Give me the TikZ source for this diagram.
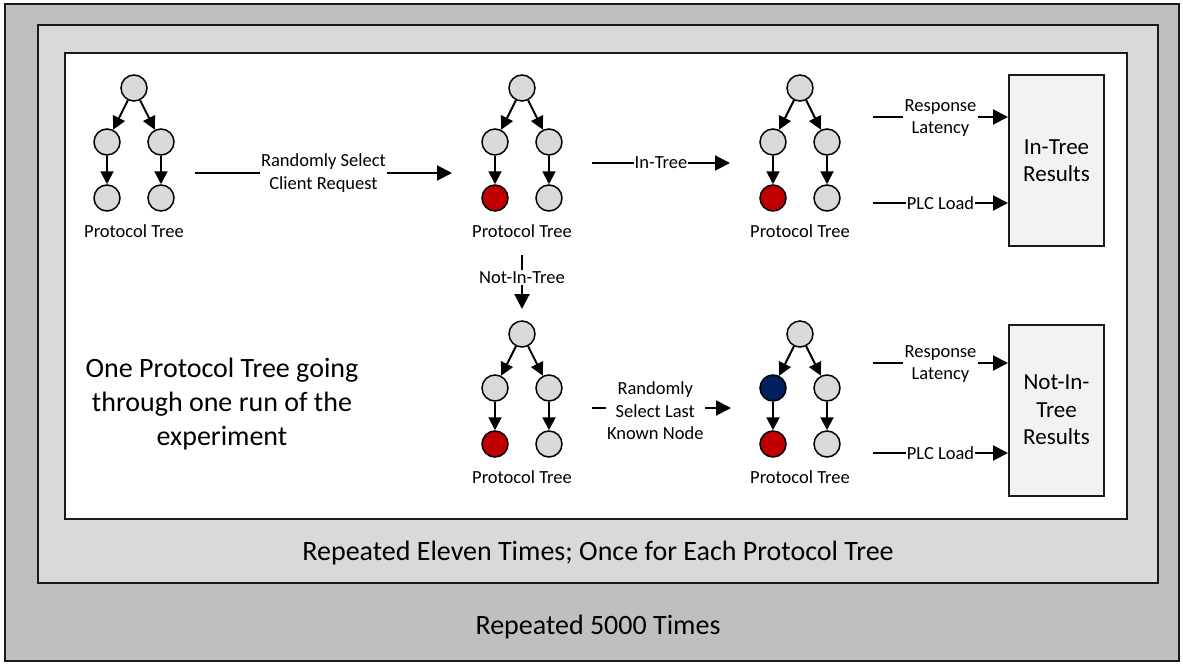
\documentclass[tikz,border=0pt]{standalone}
\usepackage{fontspec}
\setmainfont{Carlito}
\usetikzlibrary{arrows.meta,calc}
\definecolor{outerg}{HTML}{BFBFBF}
\definecolor{midg}{HTML}{D9D9D9}
\definecolor{boxg}{HTML}{F2F2F2}
\definecolor{nodeg}{HTML}{D9D9D9}
\definecolor{redn}{HTML}{C00000}
\definecolor{bluen}{HTML}{002060}
\definecolor{edgec}{HTML}{1A1A1A}
\tikzset{
 tn/.style={circle, draw=black, line width=1.5pt, fill=nodeg, minimum size=26pt, inner sep=0pt},
 tarr/.style={line width=2pt, -{Triangle[length=13pt,width=13pt]}},
 conn/.style={line width=2pt, -{Triangle[length=15pt,width=15pt]}},
 lbl/.style={fill=white, inner sep=1.5pt, align=center, font=\fontsize{18.5}{22.5}\selectfont},
 ptlbl/.style={font=\fontsize{18.5}{22.5}\selectfont, inner sep=0pt},
 frame/.style={draw=edgec, line width=2pt},
 res/.style={frame, fill=boxg, minimum width=95pt, minimum height=171pt, align=center, font=\fontsize{23}{27.5}\selectfont, inner sep=0pt},
 bigtxt/.style={font=\fontsize{28}{34}\selectfont, align=center},
}
\newcommand{\ptree}[5]{%
  \node[tn] (#1r) at (#2,#3) {};
  \node[tn,fill=#4] (#1a) at ({#2-27},{#3+54}) {};
  \node[tn] (#1b) at ({#2+27},{#3+54}) {};
  \node[tn,fill=#5] (#1c) at ({#2-27},{#3+110}) {};
  \node[tn] (#1d) at ({#2+27},{#3+110}) {};
  \node[ptlbl] (#1t) at (#2,{#3+143}) {Protocol Tree};
  \draw[tarr] (#1r) -- (#1a);
  \draw[tarr] (#1r) -- (#1b);
  \draw[tarr] (#1a) -- (#1c);
  \draw[tarr] (#1b) -- (#1d);
}
\begin{document}
\begin{tikzpicture}[x=1pt,y=-1pt]
\useasboundingbox (0,0) rectangle (1183,664);
% frames
\draw[frame, line width=1.5pt, fill=outerg] (5,4) rectangle (1179,661);
\draw[frame, fill=midg] (38,25) rectangle (1158,583);
\draw[frame, fill=white] (65,53) rectangle (1127,519);
% trees
\ptree{ta}{134}{88}{nodeg}{nodeg}
\ptree{tb}{522}{88}{nodeg}{redn}
\ptree{tc}{800}{88}{nodeg}{redn}
\ptree{td}{522}{334}{nodeg}{redn}
\ptree{te}{800}{334}{bluen}{redn}
% results
\node[res] (resA) at (1056.5,160.5) {In-Tree\\Results};
\node[res] (resB) at (1056.5,410) {Not-In-\\Tree\\Results};
% connectors
\coordinate (a1s) at (195,173);
\coordinate (a1e) at (452,173);
\draw[conn] (a1s) -- node[lbl]{Randomly Select\\Client Request} (a1e);
\coordinate (a2s) at (592,163);
\coordinate (a2e) at (730,163);
\draw[conn] (a2s) -- node[lbl, inner sep=0.5pt]{In-Tree} (a2e);
\coordinate (a3s) at (522,255);
\coordinate (a3e) at (522,309);
\draw[conn] (a3s) -- node[lbl, pos=0.42]{Not-In-Tree} (a3e);
\coordinate (a4s) at (592,408);
\coordinate (a4e) at (731,408);
\draw[conn] (a4s) -- node[lbl, pos=0.455, yshift=-3pt]{Randomly\\Select Last\\Known Node} (a4e);
\coordinate (r1s) at (873,117);
\draw[conn] (r1s) -- node[lbl, yshift=-1pt]{Response\\Latency} (r1s -| resA.west);
\coordinate (p1s) at (873,203);
\draw[conn] (p1s) -- node[lbl, inner sep=0.5pt]{PLC Load} (p1s -| resA.west);
\coordinate (r2s) at (873,363);
\draw[conn] (r2s) -- node[lbl, yshift=-1pt]{Response\\Latency} (r2s -| resB.west);
\coordinate (p2s) at (873,453);
\draw[conn] (p2s) -- node[lbl, inner sep=0.5pt]{PLC Load} (p2s -| resB.west);
% texts
\node[bigtxt] (desc) at (222,404) {One Protocol Tree going\\through one run of the\\experiment};
\node[bigtxt] (rep11) at (598,553) {Repeated Eleven Times; Once for Each Protocol Tree};
\node[bigtxt] (rep5k) at (598,627) {Repeated 5000 Times};
\end{tikzpicture}
\end{document}
